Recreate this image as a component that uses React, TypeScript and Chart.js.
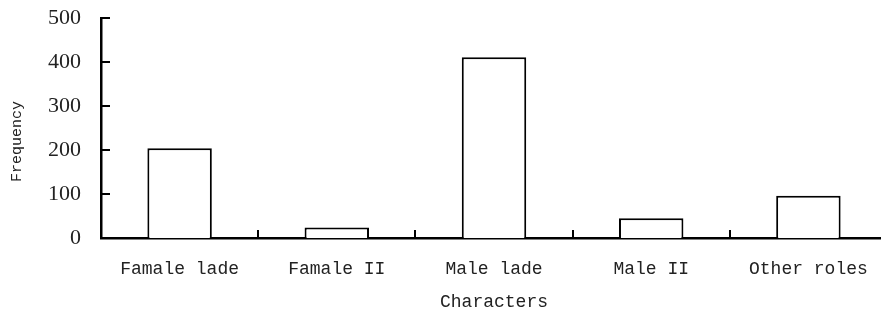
import React, { useEffect, useRef } from "react";
import { Chart, registerables } from "chart.js";

Chart.register(...registerables);

const categories = ["Famale lade", "Famale II", "Male lade", "Male II", "Other roles"];
const frequency = [204, 24, 411, 45, 96];
const yTicks = [0, 100, 200, 300, 400, 500];

const inwardTicks = {
  id: "inwardTicks",
  afterDraw(chart: any) {
    const { ctx } = chart;
    const xs = chart.scales.x;
    const ys = chart.scales.y;
    ctx.save();
    ctx.strokeStyle = "#000";
    ctx.lineWidth = 2;
    const left = chart.chartArea.left;
    const bottom = chart.chartArea.bottom;
    for (const v of yTicks) {
      const py = Math.round(ys.getPixelForValue(v));
      ctx.beginPath();
      ctx.moveTo(left, py);
      ctx.lineTo(left + 9, py);
      ctx.stroke();
    }
    const half = (xs.getPixelForValue(1) - xs.getPixelForValue(0)) / 2;
    for (let i = 0; i < categories.length; i++) {
      const px = Math.round(xs.getPixelForValue(i) + half);
      ctx.beginPath();
      ctx.moveTo(px, bottom);
      ctx.lineTo(px, bottom - 8);
      ctx.stroke();
    }
    ctx.restore();
  },
};

export default function App() {
  const ref = useRef<HTMLCanvasElement>(null);
  useEffect(() => {
    if (!ref.current) return;
    const chart = new Chart(ref.current, {
      type: "bar",
      data: {
        labels: categories,
        datasets: [
          {
            data: frequency,
            backgroundColor: "#fff",
            borderColor: "#000",
            borderWidth: 2,
            barPercentage: 0.41,
            categoryPercentage: 1,
          },
        ],
      },
      options: {
        animation: false,
        responsive: false,
        maintainAspectRatio: false,
        layout: { padding: { top: 18, right: 3, left: 0, bottom: 0 } },
        plugins: { legend: { display: false }, tooltip: { enabled: false } },
        scales: {
          x: {
            grid: { display: false, drawTicks: false },
            border: { display: true, color: "#000", width: 2.5 },
            ticks: {
              color: "#222",
              font: { family: "Liberation Mono", size: 18 },
              padding: 20,
              maxRotation: 0,
              autoSkip: false,
            },
            title: {
              display: true,
              text: "Characters",
              color: "#222",
              font: { family: "Liberation Mono", size: 18 },
              padding: { top: 0, bottom: 1 },
            },
            afterFit: (s: any) => {
              s.height = 76;
              s.paddingLeft = 0;
              s.paddingRight = 0;
            },
          },
          y: {
            min: 0,
            max: 500,
            grid: { display: false, drawTicks: false },
            border: { display: true, color: "#000", width: 2.5 },
            ticks: {
              stepSize: 100,
              color: "#222",
              font: { family: "Liberation Serif", size: 22 },
              padding: 20,
            },
            title: {
              display: true,
              text: "Frequency   ",
              color: "#222",
              font: { family: "Liberation Mono", size: 15 },
              padding: { top: 8, bottom: 0 },
            },
            afterFit: (s: any) => {
              s.width = 101;
              s.paddingTop = 0;
              s.paddingBottom = 0;
            },
          },
        },
      },
      plugins: [inwardTicks],
    });
    return () => chart.destroy();
  }, []);
  return (
    <div
      style={{
        position: "fixed",
        left: 0,
        top: 0,
        width: 881,
        height: 314,
        overflow: "hidden",
        background: "#fff",
      }}
    >
      <canvas ref={ref} width={890} height={314} style={{ display: "block", width: 890, height: 314 }} />
    </div>
  );
}
